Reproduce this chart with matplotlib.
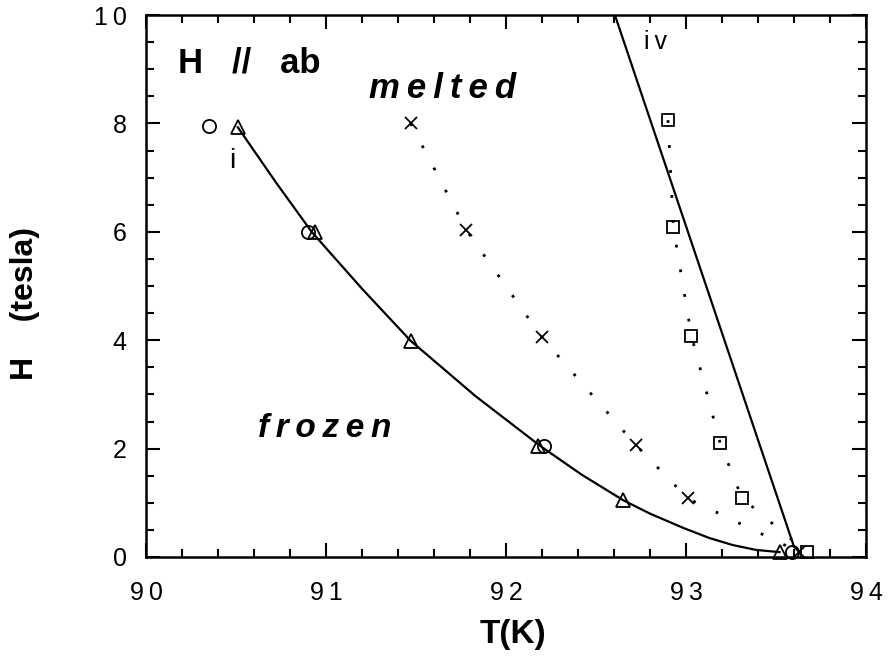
import numpy as np
import matplotlib
matplotlib.use("Agg")
import matplotlib.pyplot as plt
from matplotlib.ticker import MultipleLocator, FuncFormatter

plt.rcParams['font.family'] = ['Liberation Sans', 'DejaVu Sans']

# phase boundary data, H // ab
circle_T = [90.35, 90.90, 92.21, 93.59]
circle_H = [7.95, 6.00, 2.05, 0.09]

tri_T = [90.51, 90.94, 91.47, 92.18, 92.65, 93.52]
tri_H = [7.93, 6.00, 3.99, 2.05, 1.05, 0.09]

cross_T = [91.47, 91.78, 92.20, 92.72, 93.01, 93.63]
cross_H = [8.00, 6.03, 4.05, 2.07, 1.08, 0.09]

square_T = [92.90, 92.93, 93.03, 93.19, 93.31, 93.67]
square_H = [8.06, 6.08, 4.08, 2.10, 1.09, 0.09]

# freezing line (i)
line_i_T = [90.51, 90.72, 90.92, 91.20, 91.47, 91.83, 92.19, 92.42, 92.65,
            92.80, 92.99, 93.13, 93.26, 93.39, 93.52]
line_i_H = [7.93, 6.92, 6.00, 4.95, 3.99, 2.97, 2.05, 1.52, 1.05,
            0.80, 0.53, 0.35, 0.22, 0.13, 0.09]

# line (iv)
line_iv_T = [92.605, 93.60]
line_iv_H = [10.0, 0.19]

fig = plt.figure(figsize=(8.96, 6.62), dpi=100)
ax = fig.add_axes([146/896, 1 - 557/662, 720/896, 542/662])

ax.plot(line_i_T, line_i_H, color='black', lw=1.6)
ax.plot(line_iv_T, line_iv_H, color='black', lw=1.6)
ax.plot(cross_T, cross_H, color='black', lw=2.0, linestyle=(0, (1, 8)))
ax.plot(square_T, square_H, color='black', lw=2.0, linestyle=(0, (1, 8)))

mk = dict(color='black', linestyle='none', markerfacecolor='none',
          markeredgewidth=1.3, clip_on=False)
ax.plot(circle_T, circle_H, marker='o', markersize=9.5, **mk)
ax.plot(tri_T, tri_H, marker='^', markersize=9.5, **mk)
ax.plot(cross_T, cross_H, marker='x', markersize=9, **mk)
ax.plot(square_T, square_H, marker='s', markersize=8.5, **mk)

ax.set_xlim(90, 94)
ax.set_ylim(0, 10)

ax.xaxis.set_major_locator(MultipleLocator(1))
ax.xaxis.set_minor_locator(MultipleLocator(0.2))
ax.yaxis.set_major_locator(MultipleLocator(2))
ax.yaxis.set_minor_locator(MultipleLocator(0.5))

spaced = FuncFormatter(lambda v, p: '\u2009'.join(str(int(round(v)))))
ax.xaxis.set_major_formatter(spaced)
ax.yaxis.set_major_formatter(spaced)

ax.tick_params(which='both', direction='in', top=True, right=True,
               width=1.5, labelsize=18)
ax.tick_params(which='major', length=10)
ax.tick_params(which='minor', length=6)
ax.tick_params(axis='x', pad=17)
ax.tick_params(axis='y', pad=14)
for s in ax.spines.values():
    s.set_linewidth(1.8)

ax.text(90.18, 9.12, 'H   //   ab', fontsize=25, fontweight='bold',
        ha='left', va='center')
ax.text(91.65, 8.65, '\u2009'.join('melted'), fontsize=25, fontweight='bold',
        style='italic', ha='center', va='center')
ax.text(90.99, 2.37, '\u2009'.join('frozen'), fontsize=24, fontweight='bold',
        style='italic', ha='center', va='center')
ax.text(90.48, 7.3, 'i', fontsize=20, ha='center', va='center')
ax.text(92.83, 9.5, 'i\u2009v', fontsize=18, ha='center', va='center')

fig.text(25/896, 1 - 303/662, 'H    (tesla)', fontsize=23, fontweight='bold',
         rotation=90, ha='center', va='center')
fig.text(513/896, 1 - 634/662, 'T(K)', fontsize=24, fontweight='bold',
         ha='center', va='center')

fig.savefig('out.png', dpi=100)
